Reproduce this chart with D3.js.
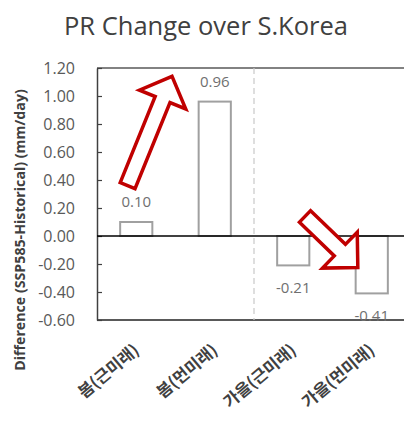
<!DOCTYPE html>
<html>
<head>
<meta charset="utf-8">
<script src="https://cdn.jsdelivr.net/npm/d3@7"></script>
<style>
  body { margin: 0; background: #fff; }
  svg { display: block; }
</style>
</head>
<body>
<div id="chart"></div>
<script>
// data
var categories = ["봄(근미래)", "봄(먼미래)", "가을(근미래)", "가을(먼미래)"];
var values = [0.10, 0.96, -0.21, -0.41];
var yTicks = [1.2, 1.0, 0.8, 0.6, 0.4, 0.2, 0.0, -0.2, -0.4, -0.6];
// red annotation arrows: start/end as (band position, value)
var arrowFrom = [[0.39, 0.36], [2.65, 0.14]];
var arrowTo = [[0.97, 1.16], [3.35, -0.24]];

var width = 404,
    height = 423;
var margin = { top: 68, right: -7, bottom: 103, left: 97 };

var svg = d3.select("#chart")
    .append("svg")
    .attr("width", width)
    .attr("height", height);

var x = d3.scaleBand()
    .domain(categories)
    .range([margin.left, width - margin.right])
    .paddingInner(0.59)
    .paddingOuter(0.295);

// band position -> pixel, for the annotations
var xPos = d3.scaleLinear()
    .domain([0, categories.length])
    .range([margin.left, width - margin.right]);

var y = d3.scaleLinear()
    .domain([-0.6, 1.2])
    .range([height - margin.bottom, margin.top]);

var fmt = d => d3.format(".2f")(d).replace("−", "-");

// title
svg.append("text")
    .attr("x", 206)
    .attr("y", 35)
    .attr("text-anchor", "middle")
    .attr("font-family", "Open Sans")
    .attr("font-size", "25.5px")
    .attr("fill", "#404040")
    .text("PR Change over S.Korea");

// frame top / bottom
svg.append("line")
    .attr("x1", margin.left).attr("x2", width)
    .attr("y1", y(1.2)).attr("y2", y(1.2))
    .attr("stroke", "#595959").attr("stroke-width", 1.5);
svg.append("line")
    .attr("x1", margin.left).attr("x2", width)
    .attr("y1", y(-0.6)).attr("y2", y(-0.6))
    .attr("stroke", "#595959").attr("stroke-width", 2);

// dashed divider between spring and autumn
svg.append("line")
    .attr("x1", xPos(2)).attr("x2", xPos(2))
    .attr("y1", y(1.2)).attr("y2", y(-0.6))
    .attr("stroke", "#c8c8c8")
    .attr("stroke-width", 1.2)
    .attr("stroke-dasharray", "6,4");

// y axis with inward ticks
var yAxis = svg.append("g")
    .attr("transform", "translate(" + margin.left + ",0)")
    .call(d3.axisLeft(y)
        .tickValues(yTicks)
        .tickSizeInner(-5)
        .tickSizeOuter(0)
        .tickPadding(22)
        .tickFormat(fmt));
yAxis.select(".domain").attr("stroke", "#404040").attr("stroke-width", 1.5);
yAxis.selectAll(".tick line").attr("stroke", "#404040").attr("stroke-width", 1.2);
yAxis.selectAll(".tick text")
    .attr("font-family", "Open Sans")
    .attr("font-size", "16px")
    .attr("fill", "#595959");

// bars
svg.append("g")
    .selectAll("rect")
    .data(values)
    .enter()
    .append("rect")
    .attr("x", (d, i) => x(categories[i]))
    .attr("y", d => y(Math.max(0, d)))
    .attr("width", x.bandwidth())
    .attr("height", d => Math.abs(y(d) - y(0)))
    .attr("fill", "#fff")
    .attr("stroke", "#a0a0a0")
    .attr("stroke-width", 2);

// zero line
svg.append("line")
    .attr("x1", margin.left).attr("x2", width)
    .attr("y1", y(0)).attr("y2", y(0))
    .attr("stroke", "#000").attr("stroke-width", 1.5);

// value labels
svg.append("g")
    .selectAll("text")
    .data(values)
    .enter()
    .append("text")
    .attr("x", (d, i) => x(categories[i]) + x.bandwidth() / 2)
    .attr("y", d => d >= 0 ? y(d) - 15 : y(d) + 28)
    .attr("text-anchor", "middle")
    .attr("font-family", "Open Sans")
    .attr("font-size", "15px")
    .attr("fill", "#6f6f6f")
    .text(fmt);

// category labels
svg.append("g")
    .selectAll("text")
    .data(categories)
    .enter()
    .append("text")
    .attr("transform", d => "translate(" + (x(d) + x.bandwidth() / 2 + 4) + "," + 352 + ") rotate(-40)")
    .attr("text-anchor", "end")
    .attr("font-family", "Noto Sans CJK KR")
    .attr("font-weight", "bold")
    .attr("font-size", "16.5px")
    .attr("fill", "#404040")
    .text(d => d);

// y axis title
svg.append("text")
    .attr("transform", "translate(25,230) rotate(-90)")
    .attr("text-anchor", "middle")
    .attr("font-family", "Open Sans")
    .attr("font-weight", "bold")
    .attr("font-size", "14.2px")
    .attr("fill", "#404040")
    .text("Difference (SSP585-Historical) (mm/day)");

// hollow red arrows
var shaft = 8, head = 25, headLen = 25;
svg.append("g")
    .selectAll("polygon")
    .data(arrowFrom)
    .enter()
    .append("polygon")
    .attr("transform", function (d, i) {
        var x0 = xPos(d[0]), y0 = y(d[1]);
        var x1 = xPos(arrowTo[i][0]), y1 = y(arrowTo[i][1]);
        var ang = Math.atan2(y1 - y0, x1 - x0) * 180 / Math.PI;
        return "translate(" + x0 + "," + y0 + ") rotate(" + ang + ")";
    })
    .attr("points", function (d, i) {
        var x0 = xPos(d[0]), y0 = y(d[1]);
        var x1 = xPos(arrowTo[i][0]), y1 = y(arrowTo[i][1]);
        var L = Math.hypot(x1 - x0, y1 - y0) - 3;
        return [[0, -shaft], [L - headLen, -shaft], [L - headLen, -head], [L, 0],
            [L - headLen, head], [L - headLen, shaft], [0, shaft]].map(p => p.join(",")).join(" ");
    })
    .attr("fill", "#fff")
    .attr("stroke", "#c00000")
    .attr("stroke-width", 3.5)
    .attr("stroke-linejoin", "miter");
</script>
</body>
</html>
